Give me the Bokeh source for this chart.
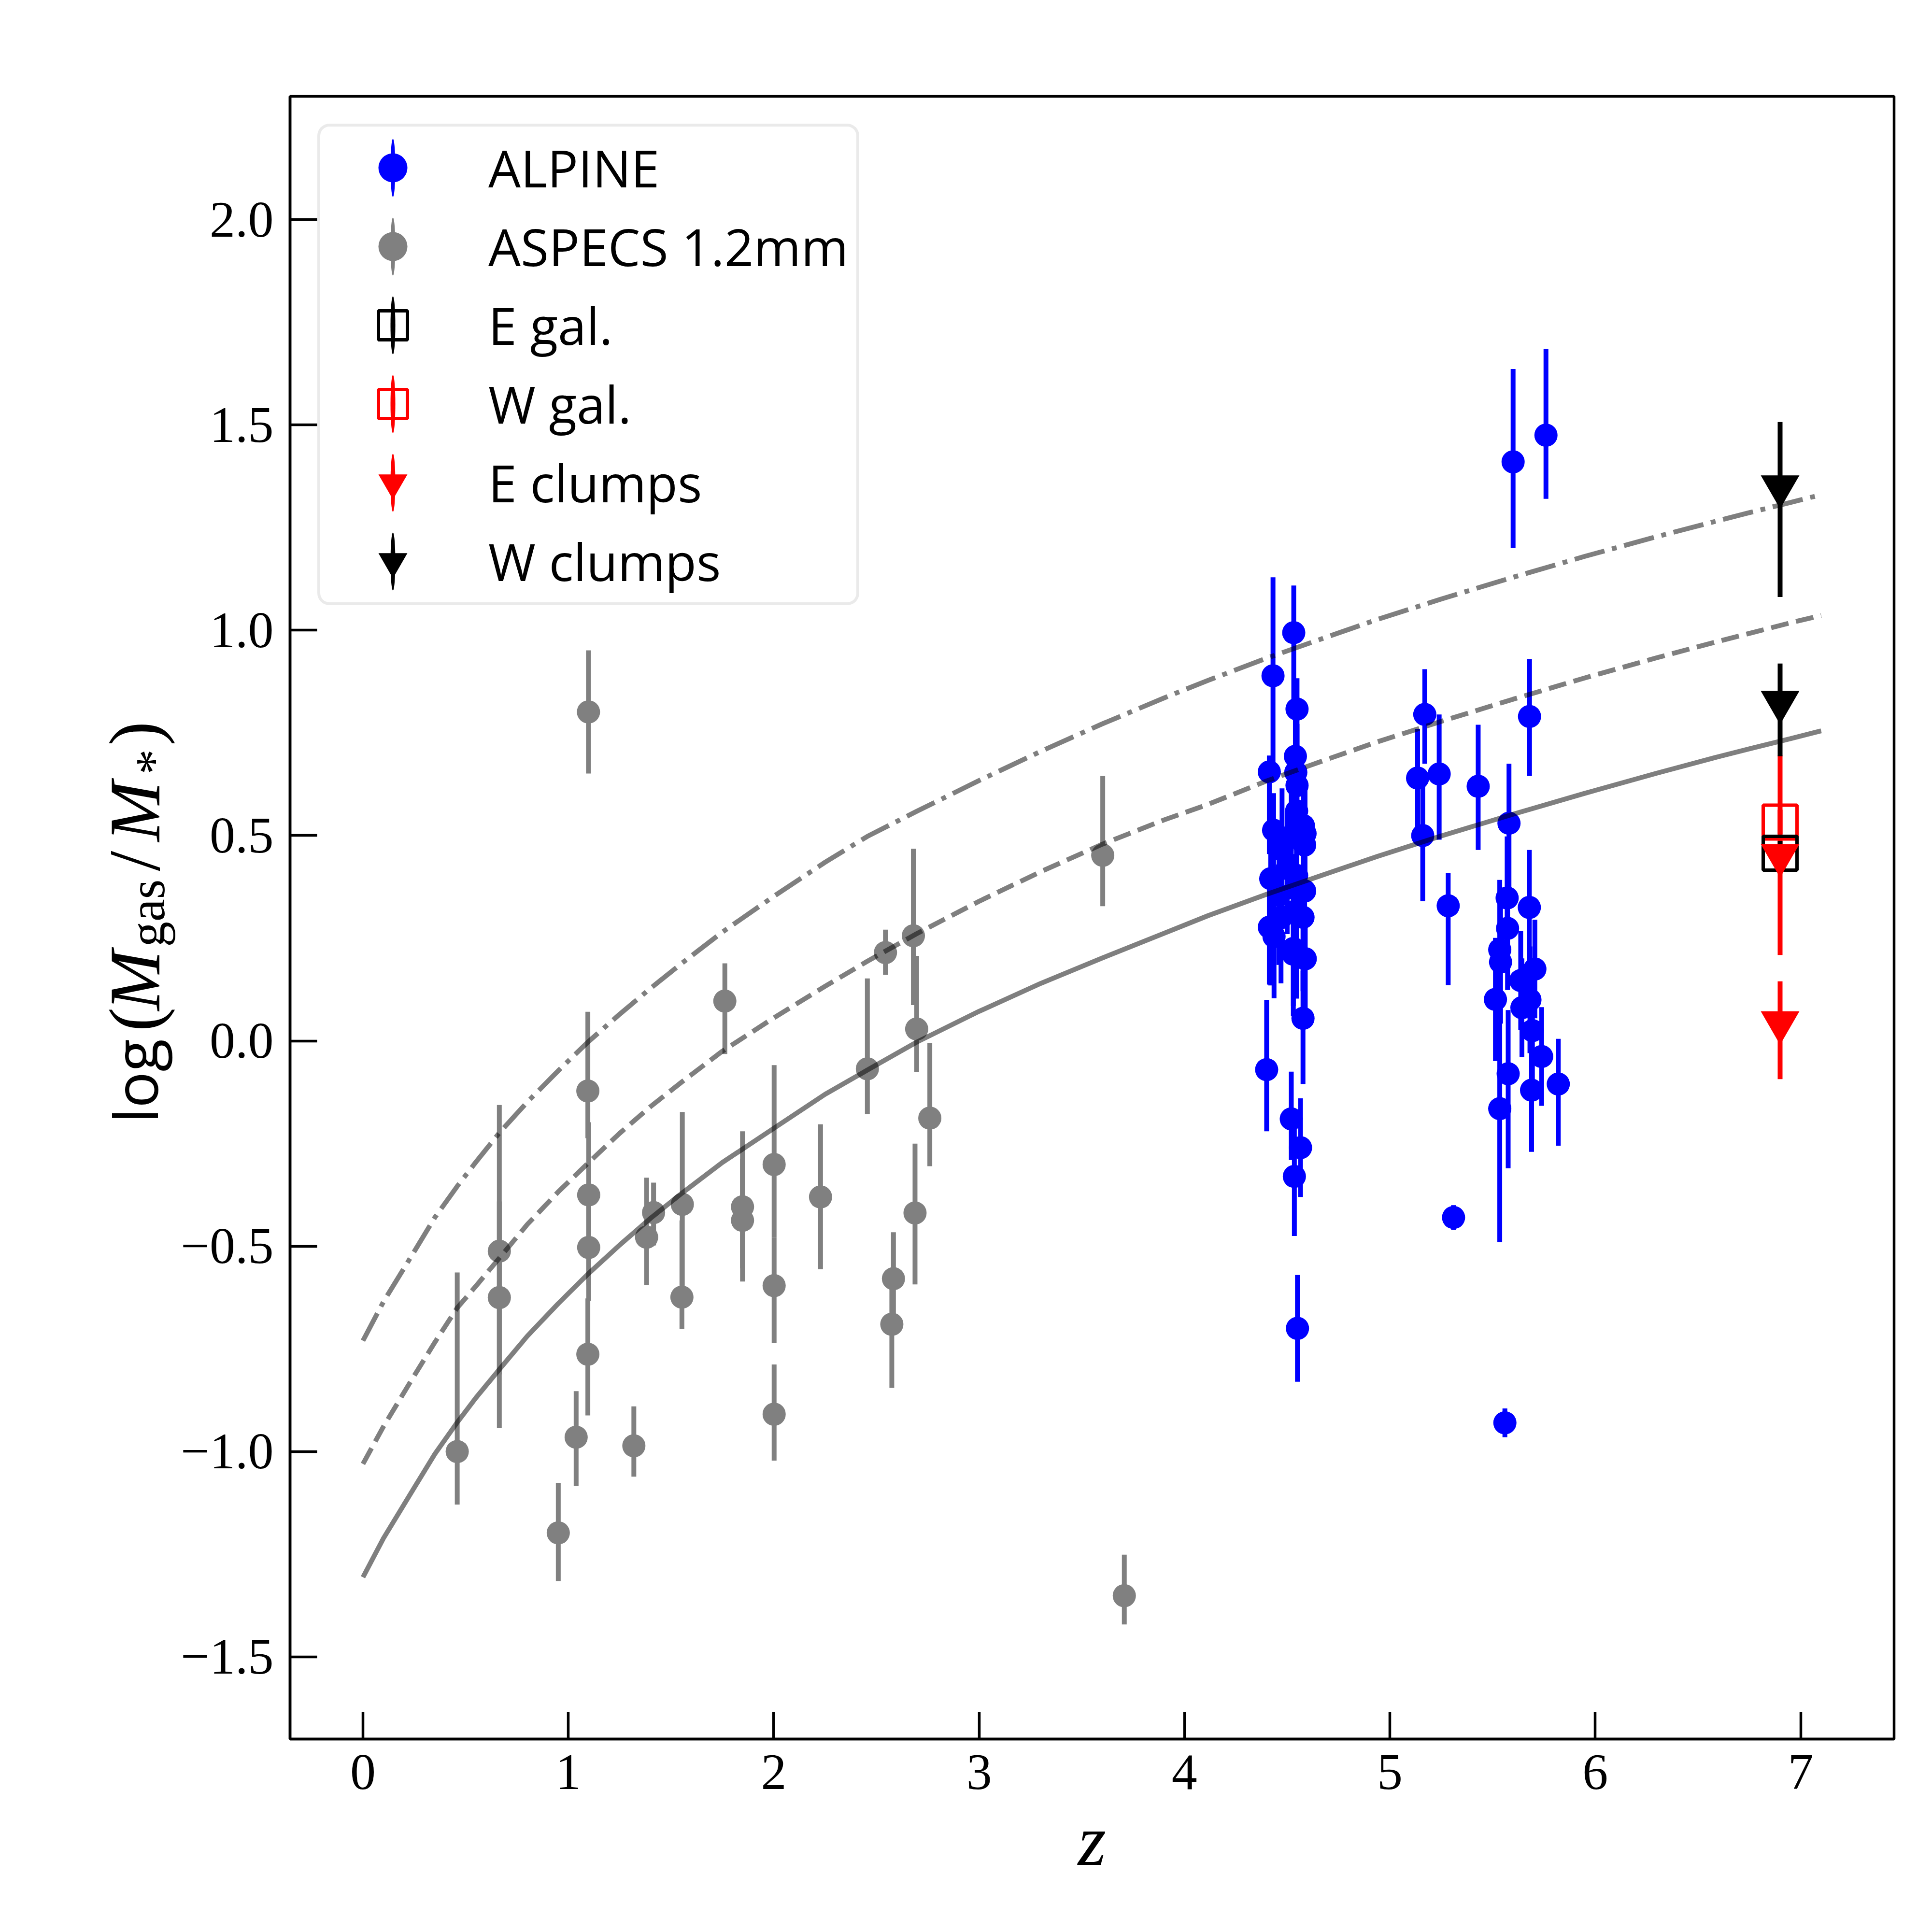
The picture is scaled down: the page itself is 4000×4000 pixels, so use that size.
import numpy as np
from bokeh.plotting import figure
from bokeh.layouts import row
from bokeh.models import ColumnDataSource, Legend, LegendItem, Label, FixedTicker, Range1d
from bokeh.embed import file_html
from bokeh.resources import INLINE
from bokeh.core.properties import value

# ---------------- data ----------------
aspecs_z = [0.459, 0.664, 0.664, 1.095, 1.099, 1.099, 1.095, 1.038, 0.951, 1.319,
            1.381, 1.415, 1.555, 1.553, 1.848, 1.848, 2.002, 2.002, 2.002, 2.228,
            2.456, 2.696, 2.760, 2.688, 2.583, 2.575, 1.762, 2.544, 2.680, 3.602,
            1.098, 3.707]
aspecs_y = [-1.000, -0.512, -0.625, -0.122, -0.375, -0.503, -0.763, -0.965, -1.198, -0.986,
            -0.478, -0.418, -0.398, -0.624, -0.404, -0.437, -0.301, -0.596, -0.909, -0.380,
            -0.068, 0.029, -0.188, -0.419, -0.579, -0.690, 0.097, 0.215, 0.256, 0.452,
            0.801, -1.351]
aspecs_up = [0.436, 0.356, 0.234, 0.193, 0.177, 0.13, 0.136, 0.112, 0.122, 0.096,
             0.145, 0.073, 0.225, 0.187, 0.184, 0.15, 0.242, 0.118, 0.121, 0.177,
             0.22, 0.178, 0.183, 0.169, 0.113, 0.10, 0.092, 0.056, 0.212, 0.193,
             0.15, 0.10]
aspecs_lo = [0.129, 0.30, 0.317, 0.115, 0.22, 0.13, 0.149, 0.119, 0.117, 0.075,
             0.117, 0.08, 0.25, 0.077, 0.15, 0.149, 0.177, 0.14, 0.113, 0.176,
             0.11, 0.105, 0.117, 0.174, 0.11, 0.155, 0.129, 0.054, 0.169, 0.124,
             0.15, 0.07]

alpine_z = [4.532, 4.431, 4.548, 4.540, 4.413, 4.542, 4.548, 4.546, 4.579, 4.434,
            4.587, 4.585, 4.520, 4.475, 4.500, 4.460, 4.535, 4.470, 4.530, 4.420,
            4.546, 4.585, 4.577, 4.413, 4.436, 4.530, 4.588, 4.577, 4.400, 4.520,
            4.565, 4.535, 4.550,
            5.135, 5.170, 5.160, 5.240, 5.284, 5.310, 5.430, 5.600, 5.760, 5.680,
            5.580, 5.571, 5.679, 5.573, 5.535, 5.539, 5.706, 5.637, 5.514, 5.682,
            5.643, 5.694, 5.739, 5.576, 5.820, 5.690, 5.535, 5.560]
alpine_y = [0.994, 0.889, 0.808, 0.693, 0.655, 0.654, 0.622, 0.560, 0.524, 0.513,
            0.505, 0.477, 0.495, 0.465, 0.420, 0.355, 0.315, 0.300, 0.225, 0.395,
            0.403, 0.365, 0.301, 0.277, 0.254, 0.211, 0.200, 0.055, -0.070, -0.190,
            -0.260, -0.330, -0.700,
            0.640, 0.795, 0.500, 0.650, 0.329, -0.430, 0.620, 1.410, 1.475, 0.790,
            0.530, 0.348, 0.325, 0.274, 0.222, 0.192, 0.175, 0.147, 0.101, 0.100,
            0.081, 0.025, -0.038, -0.080, -0.105, -0.120, -0.165, -0.930]
alpine_up = [0.115, 0.24, 0.075, 0.18, 0.04, 0.15, 0.15, 0.15, 0.14, 0.09,
             0.13, 0.13, 0.12, 0.15, 0.14, 0.13, 0.14, 0.14, 0.13, 0.15,
             0.13, 0.12, 0.12, 0.14, 0.13, 0.14, 0.12, 0.116, 0.17, 0.115,
             0.12, 0.12, 0.13,
             0.12, 0.11, 0.12, 0.145, 0.08, 0.03, 0.15, 0.226, 0.21, 0.14,
             0.145, 0.15, 0.14, 0.15, 0.17, 0.15, 0.12, 0.12, 0.15, 0.13,
             0.12, 0.13, 0.12, 0.155, 0.11, 0.105, 0.21, 0.035]
alpine_lo = [0.20, 0.25, 0.20, 0.15, 0.20, 0.15, 0.15, 0.15, 0.14, 0.20,
             0.13, 0.13, 0.15, 0.15, 0.16, 0.17, 0.15, 0.16, 0.14, 0.26,
             0.30, 0.18, 0.18, 0.14, 0.15, 0.15, 0.14, 0.16, 0.15, 0.10,
             0.12, 0.145, 0.13,
             0.12, 0.12, 0.16, 0.16, 0.193, 0.03, 0.155, 0.21, 0.155, 0.145,
             0.155, 0.15, 0.16, 0.15, 0.17, 0.15, 0.12, 0.12, 0.15, 0.13,
             0.12, 0.13, 0.12, 0.23, 0.15, 0.15, 0.325, 0.035]

egal_z = [6.9]
egal_y = [0.457]
egal_up = [0.03]
egal_lo = [0.03]

wgal_z = [6.9]
wgal_y = [0.533]
wgal_up = [0.03]
wgal_lo = [0.03]

eclumps_z = [6.9, 6.9]
eclumps_y = [0.452, 0.045]
eclumps_up = [0.243, 0.10]
eclumps_lo = [0.243, 0.138]

wclumps_z = [6.9, 6.9]
wclumps_y = [1.350, 0.825]
wclumps_up = [0.157, 0.094]
wclumps_lo = [0.269, 0.132]

curve_z = [0.0, 0.1, 0.235, 0.35, 0.459, 0.55, 0.664, 0.8, 0.95, 1.095, 1.25, 1.4,
           1.555, 1.75, 2.0, 2.25, 2.456, 2.696, 3.0, 3.3, 3.6, 3.9, 4.115, 4.4,
           4.679, 4.938, 5.25, 5.6, 5.95, 6.3, 6.584, 6.748, 6.95, 7.1]
solid_y = [-1.306, -1.211, -1.100, -1.006, -0.929, -0.869, -0.800, -0.719, -0.640, -0.568,
           -0.497, -0.432, -0.370, -0.296, -0.213, -0.130, -0.071, -0.003, 0.072, 0.140,
           0.202, 0.262, 0.305, 0.357, 0.405, 0.449, 0.499, 0.552, 0.603, 0.652,
           0.690, 0.711, 0.736, 0.755]
dashed_y = [-1.030, -0.939, -0.827, -0.734, -0.650, -0.597, -0.529, -0.447, -0.368, -0.298,
            -0.225, -0.160, -0.099, -0.025, 0.056, 0.133, 0.194, 0.261, 0.340, 0.412,
            0.479, 0.538, 0.576, 0.633, 0.683, 0.728, 0.778, 0.832, 0.884, 0.933,
            0.971, 0.992, 1.018, 1.036]
dashdot_y = [-0.730, -0.635, -0.525, -0.430, -0.354, -0.295, -0.224, -0.149, -0.073, -0.003,
             0.065, 0.128, 0.190, 0.265, 0.352, 0.435, 0.498, 0.559, 0.634, 0.705,
             0.772, 0.835, 0.878, 0.932, 0.981, 1.026, 1.076, 1.129, 1.180, 1.228,
             1.265, 1.286, 1.311, 1.330]

xticks = [0, 1, 2, 3, 4, 5, 6, 7]
xtick_labels = ["0", "1", "2", "3", "4", "5", "6", "7"]
yticks = [-1.5, -1.0, -0.5, 0.0, 0.5, 1.0, 1.5, 2.0]
ytick_labels = ["\u22121.5", "\u22121.0", "\u22120.5", "0.0", "0.5", "1.0", "1.5", "2.0"]

legend_labels = ["ALPINE", "ASPECS 1.2mm", "E gal.", "W gal.", "E clumps", "W clumps"]
ylabel_parts = ["log", "(", "M", "gas", "/", "M", "*", ")"]
xlabel = "z"

# ---------------- layout constants ----------------
TOTAL_W, H = 3984, 3984
LAB_W = 597                 # strip holding y tick labels and y-axis title
W = TOTAL_W - LAB_W
BL, BR, BT, BB = 3, 63, 199, 384

yrange = Range1d(-1.70, 2.30)

# ---------------- left strip: y tick labels + rotated y title ----------------
lab = figure(width=LAB_W, height=H, output_backend="svg", toolbar_location=None,
             x_range=(0, LAB_W), y_range=yrange, x_axis_location=None,
             y_axis_location=None, min_border_left=0, min_border_right=0,
             min_border_top=BT, min_border_bottom=BB)
lab.outline_line_color = None
lab.background_fill_color = "white"
lab.border_fill_color = "white"
lab.grid.visible = False

# y tick labels at the tick values of the shared y range
for t, l in zip(yticks, ytick_labels):
    lab.add_layout(Label(x=LAB_W + BL - 34, y=t, x_units="screen", y_units="data",
                         text=l, text_font="Liberation Serif", text_font_size="106px",
                         text_color="black", text_align="right", text_baseline="middle"))

# rotated title pieces (screen px from the strip frame's left / bottom)
ylab_x = [278, 278, 278, 303.6, 278, 278, 318, 278]
ylab_y = [1275, 1465, 1508, 1640, 1797, 1858, 1997, 2057]
ylab_font = ["Open Sans", "Liberation Serif", "Liberation Serif", "Liberation Serif",
             "Liberation Serif", "Liberation Serif", "Liberation Serif", "Liberation Serif"]
ylab_size = ["125px", "150px", "150px", "105px", "150px", "150px", "105px", "150px"]
ylab_style = ["normal", "normal", "italic", "normal", "normal", "italic", "normal", "normal"]
for t, xx, yy, f, s, st in zip(ylabel_parts, ylab_x, ylab_y, ylab_font, ylab_size, ylab_style):
    lab.add_layout(Label(x=xx, y=yy, x_units="screen", y_units="screen", text=t,
                         angle=np.pi / 2, angle_units="rad",
                         text_font=f, text_font_size=s, text_font_style=st,
                         text_color="black", text_align="left",
                         text_baseline="alphabetic"))

# ---------------- main figure ----------------
p = figure(width=W, height=H, output_backend="svg", toolbar_location=None,
           x_range=(-0.355, 7.455), y_range=yrange,
           min_border_left=BL, min_border_right=BR, min_border_top=BT, min_border_bottom=BB)
p.xgrid.visible = False
p.ygrid.visible = False
p.outline_line_color = "black"
p.outline_line_width = 5.5
p.background_fill_color = "white"
p.border_fill_color = "white"

for ax in (p.xaxis[0], p.yaxis[0]):
    ax.axis_line_width = 5.5
    ax.axis_line_color = "black"
    ax.major_tick_line_width = 5.5
    ax.major_tick_line_color = "black"
    ax.major_tick_in = 56
    ax.major_tick_out = 0
    ax.minor_tick_in = 0
    ax.minor_tick_out = 0

p.xaxis.major_label_text_font = "Liberation Serif"
p.xaxis.major_label_text_font_size = "106px"
p.xaxis.major_label_text_color = "black"
p.xaxis.major_label_standoff = 33
p.xaxis.ticker = FixedTicker(ticks=xticks)
p.xaxis.major_label_overrides = {float(t): l for t, l in zip(xticks, xtick_labels)}

# left axis: line and inward ticks only (its labels live in the strip)
p.yaxis.ticker = FixedTicker(ticks=yticks)
p.yaxis.major_label_text_font_size = "0px"
p.yaxis.major_label_text_color = None
p.yaxis.major_label_standoff = 0

p.xaxis.axis_label = xlabel
p.xaxis.axis_label_text_font = "Liberation Serif"
p.xaxis.axis_label_text_font_style = "italic"
p.xaxis.axis_label_text_font_size = "150px"
p.xaxis.axis_label_text_color = "black"
p.xaxis.axis_label_standoff = 20


def make_src(z, y, up, lo):
    return ColumnDataSource(dict(x=z, y=y,
                                 top=[a + b for a, b in zip(y, up)],
                                 bot=[a - b for a, b in zip(y, lo)]))


def bars(src, color):
    return p.segment(x0="x", y0="bot", x1="x", y1="top", source=src,
                     line_color=color, line_width=10, line_cap="butt")


s_asp = make_src(aspecs_z, aspecs_y, aspecs_up, aspecs_lo)
s_alp = make_src(alpine_z, alpine_y, alpine_up, alpine_lo)
s_eg = make_src(egal_z, egal_y, egal_up, egal_lo)
s_wg = make_src(wgal_z, wgal_y, wgal_up, wgal_lo)
s_ec = make_src(eclumps_z, eclumps_y, eclumps_up, eclumps_lo)
s_wc = make_src(wclumps_z, wclumps_y, wclumps_up, wclumps_lo)

GREY = "#808080"
BLUE = "#0000ff"
RED = "#ff0000"

bars(s_asp, GREY)
r_asp = p.scatter("x", "y", source=s_asp, marker="circle", size=48,
                  fill_color=GREY, line_color=None)
bars(s_alp, BLUE)
r_alp = p.scatter("x", "y", source=s_alp, marker="circle", size=48,
                  fill_color=BLUE, line_color=None)

bars(s_ec, RED)
bars(s_wg, RED)
bars(s_eg, "black")
bars(s_wc, "black")
r_wg = p.scatter("x", "y", source=s_wg, marker="square", size=70,
                 fill_color=None, line_color=RED, line_width=7)
r_eg = p.scatter("x", "y", source=s_eg, marker="square", size=70,
                 fill_color=None, line_color="black", line_width=7)
r_ec = p.scatter("x", "y", source=s_ec, marker="inverted_triangle", size=80,
                 fill_color=RED, line_color=None)
r_wc = p.scatter("x", "y", source=s_wc, marker="inverted_triangle", size=80,
                 fill_color="black", line_color=None)

# model curves
p.line(curve_z, solid_y, line_color="black", line_alpha=0.5, line_width=10)
p.line(curve_z, dashed_y, line_color="black", line_alpha=0.5, line_width=10,
       line_dash="37 16")
p.line(curve_z, dashdot_y, line_color="black", line_alpha=0.5, line_width=10,
       line_dash="64 16 10 16")

# legend key error bars (thin vertical ellipses, no visible data)
nan_src = ColumnDataSource(dict(x=np.array([np.nan]), y=np.array([np.nan])))


def key_bar(color):
    return p.ellipse(x="x", y="y", width=10, height=120, width_units="screen",
                     height_units="screen", source=nan_src, fill_color=color,
                     line_color=None)


k_blue = key_bar(BLUE)
k_grey = key_bar(GREY)
k_black1 = key_bar("black")
k_red1 = key_bar(RED)
k_red2 = key_bar(RED)
k_black2 = key_bar("black")

items = [
    LegendItem(label=value(legend_labels[0]), renderers=[k_blue, r_alp]),
    LegendItem(label=value(legend_labels[1]), renderers=[k_grey, r_asp]),
    LegendItem(label=value(legend_labels[2]), renderers=[k_black1, r_eg]),
    LegendItem(label=value(legend_labels[3]), renderers=[k_red1, r_wg]),
    LegendItem(label=value(legend_labels[4]), renderers=[k_red2, r_ec]),
    LegendItem(label=value(legend_labels[5]), renderers=[k_black2, r_wc]),
]
legend = Legend(items=items, location="top_left")
legend.margin = 57
legend.padding = 10
legend.spacing = 13
legend.glyph_width = 280
legend.glyph_height = 150
legend.label_height = 150
legend.label_width = 752
legend.label_standoff = 58
legend.label_text_font = "Open Sans"
legend.label_text_font_size = "106px"
legend.label_text_baseline = "middle"
legend.label_text_color = "black"
legend.border_line_color = "#d6d6d6"
legend.border_line_width = 6.5
legend.background_fill_color = "white"
legend.background_fill_alpha = 0.8
if "border_radius" in Legend.properties():
    legend.border_radius = 25
p.add_layout(legend)

layout = row(lab, p, spacing=0)
open("out.html", "w").write(file_html(layout, INLINE))
